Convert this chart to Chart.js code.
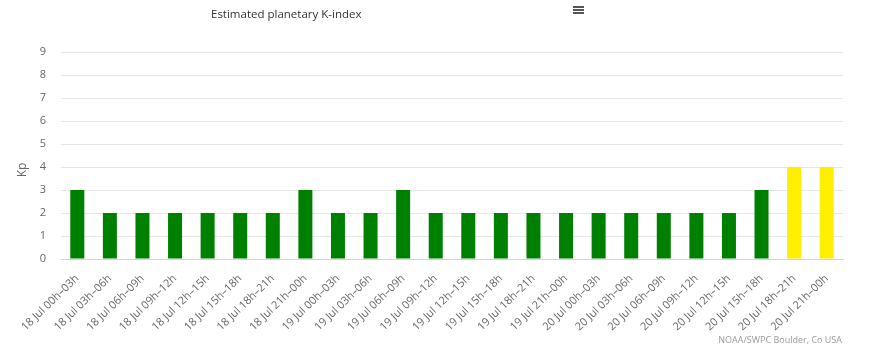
<!DOCTYPE html>
<html><head><meta charset="utf-8">
<script src="https://cdn.jsdelivr.net/npm/chart.js@4/dist/chart.umd.min.js"></script>
<style>html,body{margin:0;padding:0;background:#fff;}#wrap{width:871px;height:347px;position:relative;}</style>
</head><body><div id="wrap"><canvas id="c" width="871" height="347"></canvas></div>
<script>
const categories = ["18 Jul 00h–03h","18 Jul 03h–06h","18 Jul 06h–09h","18 Jul 09h–12h","18 Jul 12h–15h","18 Jul 15h–18h","18 Jul 18h–21h","18 Jul 21h–00h","19 Jul 00h–03h","19 Jul 03h–06h","19 Jul 06h–09h","19 Jul 09h–12h","19 Jul 12h–15h","19 Jul 15h–18h","19 Jul 18h–21h","19 Jul 21h–00h","20 Jul 00h–03h","20 Jul 03h–06h","20 Jul 06h–09h","20 Jul 09h–12h","20 Jul 12h–15h","20 Jul 15h–18h","20 Jul 18h–21h","20 Jul 21h–00h"];
const kpValues = [3,2,2,2,2,2,2,3,2,2,3,2,2,2,2,2,2,2,2,2,2,3,4,4];
const yTicks = [0,1,2,3,4,5,6,7,8,9];
const titleText = "Estimated planetary K-index";
const yAxisTitle = "Kp";
const creditText = "NOAA/SWPC Boulder, Co USA";

const FONT = "'Open Sans', 'DejaVu Sans', sans-serif";
const barColors = kpValues.map(v => v >= 4 ? "#ffee00" : "#008000");

const extras = {
  id: 'extras',
  afterDraw(chart) {
    const ctx = chart.ctx;
    ctx.save();
    ctx.fillStyle = '#333';
    ctx.font = "11.5px " + FONT;
    ctx.textBaseline = 'middle';
    ctx.textAlign = 'left';
    ctx.fillText(titleText, 211, 15);
    // menu icon
    ctx.fillStyle = '#555';
    for (let i = 0; i < 3; i++) ctx.fillRect(573, 6 + i * 3, 11, 2);
    // y axis title
    ctx.fillStyle = '#666';
    ctx.font = "12px " + FONT;
    ctx.translate(23, 170);
    ctx.rotate(-Math.PI / 2);
    ctx.textAlign = 'center';
    ctx.fillText(yAxisTitle, 0, 0);
    ctx.restore();
    ctx.save();
    ctx.fillStyle = '#999';
    ctx.font = "9px " + FONT;
    ctx.textAlign = 'right';
    ctx.textBaseline = 'middle';
    ctx.fillText(creditText, 842, 340);
    ctx.restore();
  }
};

new Chart(document.getElementById('c'), {
  type: 'bar',
  data: {
    labels: categories,
    datasets: [{ data: kpValues, backgroundColor: barColors, borderWidth: 0,
      categoryPercentage: 1, barPercentage: 0.43 }]
  },
  options: {
    responsive: false,
    animation: false,
    layout: { padding: { top: 52, right: 28, left: 0, bottom: 0 } },
    plugins: { legend: { display: false }, tooltip: { enabled: false } },
    scales: {
      x: {
        grid: { display: false, drawTicks: false },
        border: { color: '#ccd6eb', width: 1 },
        ticks: { color: '#666', font: { family: FONT, size: 11 }, minRotation: 44, maxRotation: 44, autoSkip: false, padding: 13 },
        afterFit(s) { s.height = 88; }
      },
      y: {
        min: 0, max: 9,
        afterBuildTicks(s) { s.ticks = yTicks.map(v => ({ value: v })); },
        grid: { color: '#e6e6e6', drawTicks: false },
        border: { display: false },
        ticks: { color: '#666', font: { family: FONT, size: 11 }, padding: 15 },
        afterFit(s) { s.width = 61; }
      }
    }
  },
  plugins: [extras]
});
</script></body></html>
